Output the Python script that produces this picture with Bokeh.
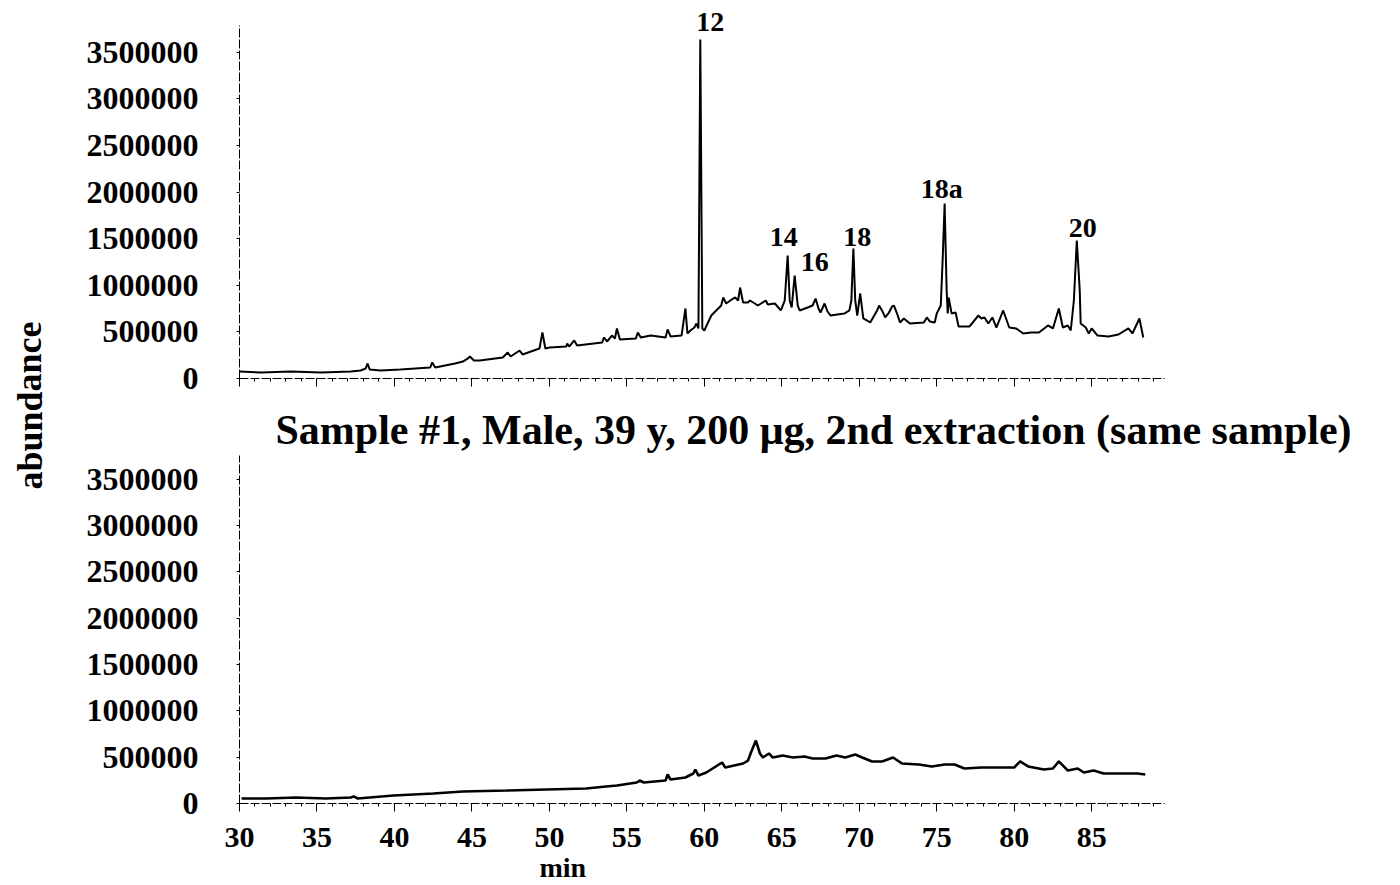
from bokeh.plotting import figure
from bokeh.models import Range1d, FixedTicker, NumeralTickFormatter, Title
from bokeh.layouts import row, column
from bokeh.core.properties import value
from bokeh.embed import file_html
from bokeh.resources import INLINE

# ---------------- data ----------------
top_time = [30.00, 31.41, 33.33, 35.26, 37.18, 37.82, 38.14, 38.27, 38.40, 39.10, 40.38, 42.31, 42.44, 42.63,
            43.91, 44.42, 44.74, 44.87, 45.13, 45.51, 46.99, 47.31, 47.50, 48.08, 48.27, 49.36, 49.55, 49.74,
            50.00, 51.09, 51.15, 51.28, 51.60, 51.79, 53.40, 53.53, 53.72, 54.04, 54.23, 54.36, 54.55, 55.58,
            55.71, 55.90, 56.54, 57.50, 57.63, 57.82, 58.53, 58.78, 58.91, 59.10, 59.36, 59.49, 59.62, 59.74,
            59.87, 60.00, 60.45, 61.09, 61.22, 61.41, 61.86, 61.99, 62.18, 62.31, 62.50, 62.82, 62.95, 63.46,
            63.97, 64.10, 64.55, 64.94, 65.19, 65.38, 65.51, 65.64, 65.83, 66.03, 66.15, 66.67, 66.99, 67.18,
            67.37, 67.50, 67.76, 67.95, 68.14, 69.04, 69.36, 69.49, 69.62, 69.74, 69.87, 70.06, 70.26, 70.71,
            71.15, 71.28, 71.47, 71.67, 71.92, 72.12, 72.24, 72.44, 72.63, 72.88, 73.27, 74.17, 74.36, 74.55,
            74.87, 75.00, 75.26, 75.38, 75.51, 75.64, 75.71, 75.77, 75.96, 76.22, 76.41, 77.12, 77.69, 77.88,
            78.08, 78.33, 78.59, 78.85, 79.29, 79.68, 80.13, 80.58, 81.09, 81.60, 82.18, 82.50, 82.88, 83.14,
            83.46, 83.65, 83.85, 84.04, 84.23, 84.29, 84.62, 84.81, 85.00, 85.38, 86.09, 86.73, 87.37, 87.63,
            88.08, 88.33]
top_abund = [75000, 64000, 75000, 64000, 75000, 86000, 107000, 161000, 97000, 86000, 97000, 118000, 172000, 118000,
             161000, 182000, 215000, 236000, 193000, 193000, 225000, 279000, 236000, 300000, 258000, 322000, 494000, 322000,
             333000, 343000, 376000, 343000, 408000, 354000, 386000, 440000, 397000, 461000, 429000, 537000, 418000, 429000,
             494000, 440000, 461000, 440000, 526000, 451000, 461000, 751000, 483000, 515000, 547000, 590000, 537000, 3637000,
             537000, 515000, 676000, 783000, 869000, 805000, 858000, 869000, 837000, 976000, 815000, 815000, 837000, 783000,
             837000, 794000, 805000, 730000, 837000, 1320000, 837000, 762000, 1105000, 783000, 730000, 762000, 783000, 858000,
             751000, 708000, 805000, 719000, 676000, 697000, 730000, 837000, 1395000, 837000, 676000, 912000, 644000, 601000,
             730000, 783000, 730000, 655000, 708000, 773000, 783000, 697000, 601000, 644000, 590000, 601000, 655000, 612000,
             601000, 697000, 783000, 1266000, 1878000, 944000, 697000, 869000, 697000, 708000, 558000, 558000, 676000, 644000,
             655000, 590000, 655000, 547000, 730000, 547000, 537000, 483000, 494000, 494000, 569000, 537000, 751000, 547000,
             569000, 515000, 837000, 1481000, 944000, 590000, 547000, 483000, 537000, 461000, 451000, 472000, 537000, 483000,
             644000, 440000]

bottom_time = [30.13, 31.73, 33.65, 35.58, 37.18, 37.37, 37.63, 39.94, 42.50, 44.42, 47.24, 49.81, 52.37, 53.65,
               54.36, 55.64, 55.83, 56.09, 57.50, 57.63, 57.82, 58.78, 59.29, 59.42, 59.62, 60.13, 61.15, 61.35,
               62.50, 62.82, 63.01, 63.33, 63.59, 63.78, 64.17, 64.42, 65.06, 65.71, 66.47, 66.99, 67.82, 68.53,
               69.10, 69.74, 70.19, 70.83, 71.47, 72.18, 72.76, 73.85, 74.68, 75.51, 76.15, 76.79, 77.88, 79.36,
               80.00, 80.38, 80.90, 81.92, 82.50, 82.88, 83.46, 84.10, 84.49, 85.13, 85.77, 87.05, 87.95, 88.46]
bottom_abund = [54000, 54000, 65000, 54000, 65000, 76000, 54000, 86000, 108000, 130000, 140000, 151000, 162000, 184000,
                194000, 227000, 248000, 227000, 248000, 313000, 259000, 281000, 324000, 367000, 302000, 335000, 443000, 389000,
                432000, 464000, 551000, 680000, 540000, 497000, 540000, 497000, 518000, 497000, 508000, 486000, 486000, 518000,
                497000, 529000, 497000, 454000, 454000, 497000, 432000, 421000, 400000, 421000, 421000, 378000, 389000, 389000,
                389000, 454000, 400000, 367000, 378000, 454000, 356000, 378000, 335000, 356000, 324000, 324000, 324000, 313000]

peak_labels = ["12", "14", "16", "18", "18a", "20"]
peak_label_time = [60.38, 65.13, 67.12, 69.87, 75.32, 84.42]
peak_label_abund = [3820000, 1513000, 1245000, 1513000, 2039000, 1620000]

y_ticks = [0, 500000, 1000000, 1500000, 2000000, 2500000, 3000000, 3500000]
x_ticks = [30, 35, 40, 45, 50, 55, 60, 65, 70, 75, 80, 85]

title_text = "Sample #1, Male, 39 y, 200 \u03bcg, 2nd extraction (same sample)"
y_label = "abundance"
x_label = "min"

FONT = "Liberation Serif"


def style(p, show_x_labels):
    p.grid.visible = False
    p.outline_line_color = None
    p.background_fill_color = "white"
    p.border_fill_color = "white"
    for ax in (p.xaxis, p.yaxis):
        ax.axis_line_color = "black"
        ax.axis_line_width = 1
        ax.axis_line_dash = "9 2"
        ax.major_tick_line_color = "black"
        ax.minor_tick_line_color = "black"
        ax.major_label_text_font = FONT
        ax.major_label_text_font_style = "bold"
        ax.major_label_text_color = "black"
    p.yaxis.ticker = FixedTicker(ticks=y_ticks)
    p.yaxis.formatter = NumeralTickFormatter(format="0")
    p.yaxis.major_tick_out = 3
    p.yaxis.major_tick_in = 0
    p.yaxis.minor_tick_line_color = None
    p.yaxis.major_label_text_font_size = "32px"
    p.yaxis.major_label_standoff = 38
    p.xaxis.ticker = FixedTicker(ticks=x_ticks, minor_ticks=list(range(30, 90)))
    p.xaxis.major_tick_out = 8
    p.xaxis.major_tick_in = 0
    p.xaxis.minor_tick_out = 3
    p.xaxis.minor_tick_in = 0
    if show_x_labels:
        p.xaxis.major_label_text_font_size = "30px"
        p.xaxis.major_label_standoff = 16
    else:
        p.xaxis.major_label_text_font_size = "1px"
        p.xaxis.major_label_text_color = None
        p.xaxis.major_label_standoff = 0


# ---------------- top panel ----------------
top = figure(width=1340, height=400, x_range=Range1d(30, 89.7), y_range=Range1d(0, 4056000),
             output_backend="svg", toolbar_location=None,
             min_border_left=179, min_border_right=230, min_border_top=0, min_border_bottom=22)
top.title.visible = False
style(top, False)
top.yaxis.bounds = (0, 3790000)
top.line(top_time, top_abund, line_color="black", line_width=2)
top.text(x=peak_label_time, y=peak_label_abund, text=peak_labels,
         text_font=value(FONT), text_font_style="bold", text_font_size="28px",
         text_align="center", text_baseline="middle", text_color="black")

# ---------------- bottom panel ----------------
bot = figure(width=1340, height=485, x_range=Range1d(30, 89.7), y_range=Range1d(0, 3758000),
             output_backend="svg", toolbar_location=None,
             min_border_left=173, min_border_right=236, min_border_top=55, min_border_bottom=82)
style(bot, True)
bot.title.text = title_text
bot.title.align = "left"
bot.title.offset = 36
bot.title.text_font = FONT
bot.title.text_font_style = "bold"
bot.title.text_font_size = "42px"
bot.title.text_color = "black"
bot.title.standoff = 5
bot.add_layout(Title(text=x_label, align="left", offset=300, text_font=FONT, text_font_style="bold",
                     text_font_size="28px", text_color="black", standoff=0), "below")
bot.line(bottom_time, bottom_abund, line_color="black", line_width=2.6)

# ---------------- y label column ----------------
lab = figure(width=60, height=885, x_range=Range1d(0, 60), y_range=Range1d(0, 885),
             output_backend="svg", toolbar_location=None, min_border=0)
lab.title.visible = False
lab.axis.visible = False
lab.grid.visible = False
lab.outline_line_color = None
lab.text(x=[29], y=[480], text=[y_label], angle=1.5708,
         text_font=value(FONT), text_font_style="bold", text_font_size="36px",
         text_align="center", text_baseline="middle", text_color="black")

layout = row(lab, column(top, bot, spacing=0), spacing=0)
open("out.html", "w").write(file_html(layout, INLINE))
